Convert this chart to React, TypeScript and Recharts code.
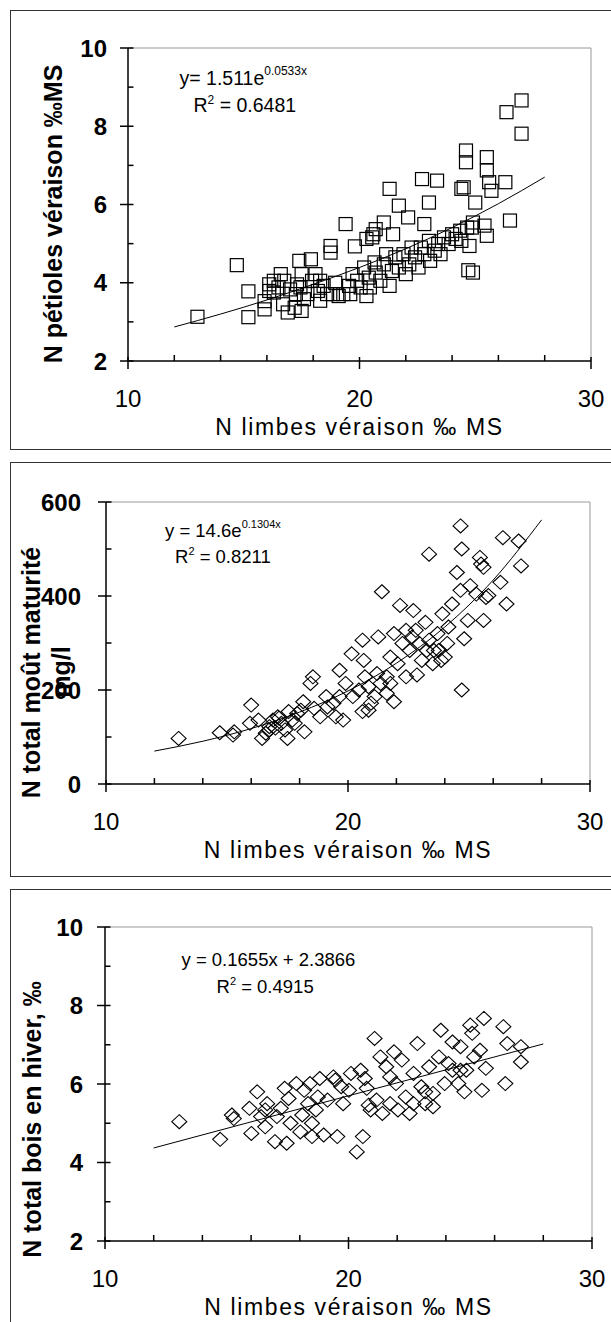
import React from 'react';
import { ScatterChart, Scatter, XAxis, YAxis, ReferenceLine } from 'recharts';

const FONT = 'Liberation Sans, Arial, sans-serif';

// ---------- Panel 1 : N limbes (x) vs N pétioles (y), squares ----------
const limbes1 = [
  13.0, 14.7, 15.2, 15.2, 15.9, 16.1, 16.3, 16.6, 16.9, 17.4, 17.5, 17.3, 17.9, 18.3, 18.75, 18.75, 19.4, 19.3, 19.6, 19.8,
  20.3, 20.55, 20.7, 21.05, 21.3, 21.7, 22.1, 22.8, 22.7, 23.35, 23.0, 24.6, 24.6, 24.5, 24.4, 25.0, 25.5, 25.5, 25.6, 25.7,
  26.3, 26.35, 27.0, 27.0, 26.5, 24.7, 24.9, 25.4, 25.5, 24.75, 24.85,
  16.1, 16.3, 16.5, 16.75, 17.0, 17.25, 17.45, 17.75, 17.95, 18.1, 18.2, 18.45, 18.6, 18.95, 19.1, 19.55, 19.7, 19.9, 20.05,
  20.2, 20.4, 20.45, 20.65, 20.7, 20.9, 21.05, 21.15, 21.3, 21.4, 21.55, 21.7, 21.9, 22.0, 22.15, 22.25, 22.4, 22.55, 22.65,
  22.8, 23.0, 23.05, 23.25, 23.4, 23.5, 23.65, 23.85, 24.0, 24.15, 24.35, 24.4, 24.65, 24.9, 21.45, 20.6, 20.3,
  15.9, 16.7, 17.2, 17.6, 17.5, 18.3, 18.85,
];
const petioles1 = [
  3.13, 4.45, 3.78, 3.12, 3.32, 3.96, 3.75, 4.22, 3.24, 4.56, 3.28, 3.96, 4.6, 4.05, 4.77, 4.94, 5.5, 3.71, 3.71, 4.93,
  3.66, 5.16, 5.37, 5.54, 6.4, 5.97, 5.67, 5.5, 6.65, 6.61, 6.05, 7.38, 7.08, 6.44, 6.4, 6.05, 7.21, 6.87, 6.57, 6.35,
  6.57, 8.36, 8.66, 7.81, 5.59, 4.32, 4.26, 5.46, 5.2, 4.94, 5.41,
  3.79, 4.05, 3.88, 4.05, 3.83, 3.71, 3.88, 3.71, 4.05, 4.22, 3.79, 3.92, 3.71, 4.0, 3.66, 3.92, 4.22, 4.05, 3.88,
  4.39, 4.13, 3.88, 4.52, 4.26, 4.05, 4.47, 4.73, 3.92, 4.3, 4.65, 4.39, 4.73, 4.22, 4.47, 4.9, 4.65, 4.39, 4.9,
  4.73, 5.07, 4.56, 4.82, 4.99, 4.73, 5.16, 4.99, 5.24, 5.12, 5.33, 5.07, 5.41, 5.54, 5.24, 5.24, 5.12,
  3.53, 3.45, 3.36, 3.58, 4.22, 3.54, 3.71,
];
const trendX1 = [12, 14, 16, 18, 20, 22, 24, 26, 28];
const trendY1 = [2.87, 3.2, 3.56, 3.96, 4.39, 4.87, 5.41, 6.02, 6.7];

// ---------- Panel 2 : N limbes (x) vs N total moût (y), diamonds ----------
const limbes2 = [
  13.0, 14.7, 15.25, 15.3, 16.0, 15.95, 16.3, 16.45, 16.6, 16.75, 16.9, 17.1, 17.25, 17.5, 17.55, 17.7, 17.9, 18.15, 18.2, 18.45,
  18.55, 18.6, 18.85, 19.1, 19.15, 19.5, 19.65, 19.8, 19.9, 20.15, 20.2, 20.6, 20.6, 20.65, 20.7, 20.85, 20.95, 21.2, 21.35, 21.4,
  21.25, 21.6, 21.9, 22.15, 21.9, 22.25, 22.05, 22.4, 22.55, 22.7, 22.8, 22.85, 23.05, 23.2, 23.25, 23.35, 23.5, 23.7, 23.9, 23.85,
  24.1, 24.15, 24.5, 24.65, 24.7, 24.7, 24.65, 24.8, 24.95, 25.05, 25.45, 25.6, 25.7, 25.6, 25.5, 26.3, 26.4, 26.55, 27.05, 27.15,
  25.3, 25.8, 24.3, 21.75,
  16.75, 17.0, 17.15, 17.4, 17.8, 18.05, 19.4, 19.65, 20.45, 20.85, 21.1, 21.6, 21.75, 22.4, 22.65, 22.95, 23.35, 23.55, 23.75, 24.0,
];
const mout2 = [
  97, 109, 104, 111, 168, 129, 136, 97, 108, 122, 136, 143, 129, 97, 154, 136, 150, 175, 111, 214,
  228, 161, 143, 186, 164, 143, 242, 136, 214, 277, 186, 306, 154, 263, 228, 207, 172, 235, 214, 409,
  313, 193, 175, 380, 320, 299, 256, 228, 284, 369, 327, 232, 263, 344, 284, 489, 256, 320, 362, 263,
  299, 334, 450, 549, 500, 200, 412, 309, 348, 422, 482, 461, 397, 348, 468, 429, 524, 383, 517, 464,
  404, 401, 383, 270,
  115, 119, 140, 115, 129, 157, 172, 186, 200, 157, 186, 228, 214, 327, 313, 299, 306, 284, 284, 270,
];
const trendX2 = [12, 14, 16, 18, 20, 22, 24, 26, 28];
const trendY2 = [70, 91, 118, 153, 198, 257, 334, 434, 562];

// ---------- Panel 3 : N limbes (x) vs N total bois en hiver (y), diamonds ----------
const limbes3 = [
  13.05, 14.73, 15.21, 15.29, 15.93, 16.01, 16.25, 16.41, 16.58, 16.58, 16.98, 17.06, 17.38, 17.46, 17.54, 17.62, 17.86, 18.02, 18.18, 18.34,
  18.42, 18.5, 18.66, 18.82, 18.98, 19.14, 19.46, 19.54, 19.7, 19.78, 20.1, 20.34, 20.5, 20.59, 20.67, 20.75, 20.91, 21.07, 21.15, 21.31,
  21.39, 21.55, 21.71, 21.87, 21.95, 22.03, 22.19, 22.35, 22.51, 22.67, 22.83, 22.99, 23.15, 23.31, 23.47, 23.71, 23.79, 23.95, 24.11, 24.27,
  24.51, 24.6, 24.76, 24.84, 25.0, 25.16, 25.48, 25.56, 25.64, 25.4, 26.36, 26.44, 26.52, 27.08, 27.08, 25.08,
  17.22, 19.38, 20.02, 20.83, 21.71, 22.67, 23.15, 24.27, 18.1, 18.5, 23.47, 24.6, 16.66, 18.74,
];
const bois3 = [
  5.04, 4.59, 5.21, 5.12, 5.38, 4.74, 5.8, 5.17, 5.34, 4.91, 4.53, 5.17, 5.89, 4.49, 5.63, 5.0, 6.01, 4.78, 5.84, 5.5,
  6.01, 4.66, 5.34, 6.14, 4.7, 5.59, 6.1, 4.66, 5.93, 5.5, 6.27, 4.27, 6.35, 4.66, 6.14, 5.89, 5.34, 7.16, 5.59, 6.69,
  5.25, 6.44, 5.5, 6.82, 6.01, 5.34, 6.61, 5.67, 5.25, 6.27, 7.03, 5.93, 5.5, 6.44, 5.76, 6.69, 7.37, 6.01, 6.52, 7.07,
  6.01, 6.95, 5.8, 6.35, 7.5, 6.69, 5.84, 7.67, 6.4, 6.86, 7.46, 6.01, 7.03, 6.95, 6.56, 7.29,
  5.38, 6.18, 5.84, 5.46, 6.18, 5.5, 5.8, 6.35, 5.21, 5.0, 5.42, 6.35, 5.5, 5.67,
];
const trendX3 = [12, 20, 28];
const trendY3 = [4.37, 5.7, 7.02];

// ---------- ticks ----------
const xTicks = [10, 12, 14, 16, 18, 20, 22, 24, 26, 28, 30];
const xMajor = [10, 20, 30];
const yTicks1 = [2, 3, 4, 5, 6, 7, 8, 9, 10];
const yMajor1 = [2, 4, 6, 8, 10];
const yTicks2 = [0, 100, 200, 300, 400, 500, 600];
const yMajor2 = [0, 200, 400, 600];

const zip = (xs: number[], ys: number[]) => xs.map((x, i) => ({ x, y: ys[i] }));

const makeXTick = (major: number[]) => (props: any) => {
  const { x, y, payload } = props;
  const v = payload.value;
  const isMajor = major.includes(v);
  return (
    <g>
      {isMajor ? (
        <line x1={x} x2={x} y1={y - 4} y2={y + 8} stroke="#000" strokeWidth={1.5} />
      ) : (
        <line x1={x} x2={x} y1={y} y2={y - 6} stroke="#000" strokeWidth={1.5} />
      )}
      {isMajor && (
        <text x={x} y={y + 46} textAnchor="middle" fontSize={24} fontFamily={FONT} fill="#000">
          {v}
        </text>
      )}
    </g>
  );
};

const makeYTick = (major: number[], gap: number) => (props: any) => {
  const { x, y, payload } = props;
  const v = payload.value;
  const isMajor = major.includes(v);
  return (
    <g>
      {isMajor ? (
        <line x1={x - 8} x2={x + 5.5} y1={y} y2={y} stroke="#000" strokeWidth={1.5} />
      ) : (
        <line x1={x} x2={x + 5.5} y1={y} y2={y} stroke="#000" strokeWidth={1.5} />
      )}
      {isMajor && (
        <text x={x - gap} y={y + 8.5} textAnchor="end" fontSize={24} fontWeight="bold" fontFamily={FONT} fill="#000">
          {v}
        </text>
      )}
    </g>
  );
};

const squareShape = (p: any) => (
  <rect x={p.cx - 6.5} y={p.cy - 6.5} width={13} height={13} fill="none" stroke="#000" strokeWidth={1.2} />
);
const diamondShape = (p: any) => (
  <polygon
    points={`${p.cx},${p.cy - 7} ${p.cx + 7.5},${p.cy} ${p.cx},${p.cy + 7} ${p.cx - 7.5},${p.cy}`}
    fill="none"
    stroke="#000"
    strokeWidth={1.1}
  />
);
const noShape = () => <g />;

type PanelProps = {
  top: number;
  height: number;
  margin: { top: number; right: number; bottom: number; left: number };
  yWidth: number;
  yDomain: [number, number];
  yTicks: number[];
  yMajor: number[];
  yGap: number;
  points: { x: number; y: number }[];
  trend: { x: number; y: number }[];
  shape: (p: any) => React.ReactElement;
  trendCurve: string;
};

function Panel(p: PanelProps) {
  return (
    <div style={{ position: 'absolute', left: 0, top: p.top }}>
      <ScatterChart width={611} height={p.height} margin={p.margin}>
        <XAxis
          type="number"
          dataKey="x"
          domain={[10, 30]}
          ticks={xTicks}
          interval={0}
          tickSize={0}
          tickMargin={0}
          tickLine={false}
          height={40}
          axisLine={{ stroke: '#000', strokeWidth: 1.5 }}
          tick={makeXTick(xMajor)}
          allowDataOverflow
        />
        <YAxis
          type="number"
          dataKey="y"
          domain={p.yDomain}
          ticks={p.yTicks}
          interval={0}
          tickSize={0}
          tickMargin={0}
          tickLine={false}
          width={p.yWidth}
          axisLine={{ stroke: '#000', strokeWidth: 1.5 }}
          tick={makeYTick(p.yMajor, p.yGap)}
          allowDataOverflow
        />
        <ReferenceLine y={p.yDomain[1]} stroke="#999" strokeWidth={1} />
        <ReferenceLine x={30} stroke="#999" strokeWidth={1} />
        <Scatter data={p.points} shape={p.shape} isAnimationActive={false} />
        <Scatter
          data={p.trend}
          shape={noShape}
          line={{ stroke: '#000', strokeWidth: 1 }}
          lineJointType={p.trendCurve as any}
          isAnimationActive={false}
        />
      </ScatterChart>
    </div>
  );
}

const boxStyle = (top: number, height: number): React.CSSProperties => ({
  position: 'absolute',
  left: 10,
  top,
  width: 640,
  height,
  border: '1.5px solid #333',
  boxSizing: 'border-box',
});

export default function App() {
  return (
    <div style={{ position: 'absolute', left: 0, top: 0, width: 611, height: 1322, overflow: 'hidden', background: '#fff' }}>
      <div style={boxStyle(10, 440)} />
      <div style={boxStyle(462, 415)} />
      <div style={boxStyle(889, 500)} />

      <Panel
        top={0}
        height={450}
        margin={{ top: 48, right: 20, bottom: 49, left: 0 }}
        yWidth={128}
        yDomain={[2, 10]}
        yTicks={yTicks1}
        yMajor={yMajor1}
        yGap={21}
        points={zip(limbes1, petioles1)}
        trend={zip(trendX1, trendY1)}
        shape={squareShape}
        trendCurve="monotoneX"
      />
      <Panel
        top={450}
        height={430}
        margin={{ top: 52, right: 21, bottom: 56, left: 0 }}
        yWidth={106}
        yDomain={[0, 600]}
        yTicks={yTicks2}
        yMajor={yMajor2}
        yGap={25}
        points={zip(limbes2, mout2)}
        trend={zip(trendX2, trendY2)}
        shape={diamondShape}
        trendCurve="monotoneX"
      />
      <Panel
        top={880}
        height={442}
        margin={{ top: 47, right: 19, bottom: 41, left: 0 }}
        yWidth={105}
        yDomain={[2, 10]}
        yTicks={yTicks1}
        yMajor={yMajor1}
        yGap={22}
        points={zip(limbes3, bois3)}
        trend={zip(trendX3, trendY3)}
        shape={diamondShape}
        trendCurve="linear"
      />

      <svg
        width={611}
        height={1322}
        style={{ position: 'absolute', left: 0, top: 0, pointerEvents: 'none' }}
        fontFamily={FONT}
        fill="#000"
      >
        {/* Panel 1 texts */}
        <text transform="translate(62,214) rotate(-90)" textAnchor="middle" fontSize={25} fontWeight="bold">
          N pétioles véraison ‰MS
        </text>
        <text x={359.5} y={435} textAnchor="middle" fontSize={23} letterSpacing={1.6}>
          N limbes véraison ‰ MS
        </text>
        <text x={179.5} y={84.5} fontSize={19.5}>
          y= 1.511e<tspan fontSize={12} dy={-10}>0.0533x</tspan>
        </text>
        <text x={193.5} y={111.5} fontSize={19.5}>
          R<tspan fontSize={12} dy={-8}>2</tspan>
          <tspan dy={8}> = 0.6481</tspan>
        </text>

        {/* Panel 2 texts */}
        <text transform="translate(40,672.5) rotate(-90)" textAnchor="middle" fontSize={25} fontWeight="bold">
          N total moût maturité
        </text>
        <text transform="translate(70,672) rotate(-90)" textAnchor="middle" fontSize={25} fontWeight="bold">
          mg/l
        </text>
        <text x={348} y={858} textAnchor="middle" fontSize={23} letterSpacing={1.6}>
          N limbes véraison ‰ MS
        </text>
        <text x={165} y={537} fontSize={18.5}>
          y = 14.6e<tspan fontSize={11} dy={-9}>0.1304x</tspan>
        </text>
        <text x={175} y={563} fontSize={18.5}>
          R<tspan fontSize={11} dy={-8}>2</tspan>
          <tspan dy={8}> = 0.8211</tspan>
        </text>

        {/* Panel 3 texts */}
        <text transform="translate(41,1119.5) rotate(-90)" textAnchor="middle" fontSize={25} fontWeight="bold">
          N total bois en hiver, ‰
        </text>
        <text x={348.5} y={1315} textAnchor="middle" fontSize={23} letterSpacing={1.6}>
          N limbes véraison ‰ MS
        </text>
        <text x={181.5} y={966} fontSize={18.5}>
          y = 0.1655x + 2.3866
        </text>
        <text x={216.5} y={992.5} fontSize={18.5}>
          R<tspan fontSize={11} dy={-8}>2</tspan>
          <tspan dy={8}> = 0.4915</tspan>
        </text>
      </svg>
    </div>
  );
}
